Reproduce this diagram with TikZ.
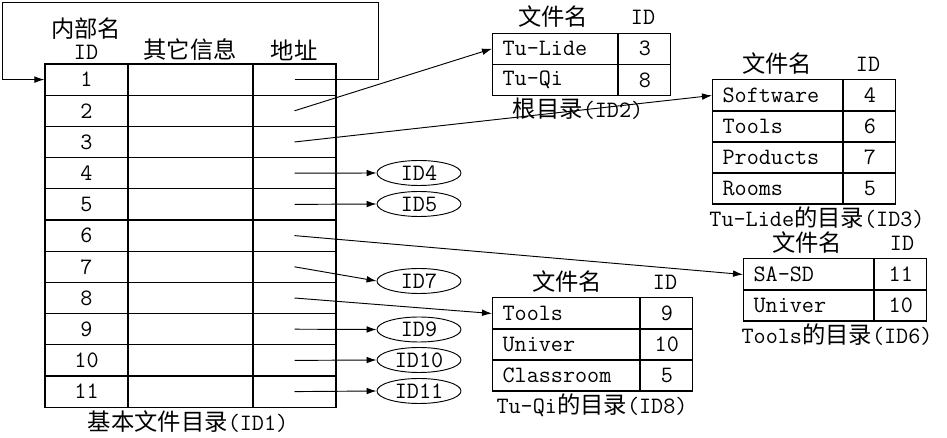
\documentclass[tikz,border=0pt]{standalone}
\usepackage{fontspec}
\newfontfamily\cjk{Noto Sans CJK SC}
\newcommand\zh[1]{{\cjk\fontsize{17.5}{20}\selectfont #1}}
\usetikzlibrary{arrows.meta,shapes.geometric}
\tikzset{
  cell/.style={draw,rectangle,inner sep=0pt,line width=0.9pt,minimum height=23.4pt},
  namecell/.style={cell,anchor=west,inner xsep=7.5pt,align=left},
  idcell/.style={cell,anchor=west,minimum width=39pt},
  oval/.style={draw,ellipse,inner sep=0pt,minimum width=63pt,minimum height=18.75pt,line width=0.7pt},
  link/.style={-{Latex[length=7.5pt,width=5pt]},line width=0.7pt},
}

\begin{document}
\begin{tikzpicture}[x=0.75pt,y=-0.75pt,font=\ttfamily\fontsize{17.6}{20}\selectfont]
\useasboundingbox (0,0) rectangle (947,438);
% basic file directory
\foreach \i in {1,...,11} {
  \node[cell,minimum width=62.25pt] (n\i) at (86.5,{64+31.2*(\i-0.5)}) {\i};
  \node[cell,minimum width=93.75pt] (o\i) at (190.5,{64+31.2*(\i-0.5)}) {};
  \node[cell,minimum width=62.25pt] (a\i) at (294.5,{64+31.2*(\i-0.5)}) {};
}
\node (hname) at (86,29) {\zh{内部名}};
\node (hid) at (86,52) {ID};
\node (hinfo) at (190,50) {\zh{其它信息}};
\node (haddr) at (294,50) {\zh{地址}};
\node (cap1) at (188,422) {\zh{基本文件目录}(ID1)};
\coordinate (loopR) at (378,2);
\coordinate (loopL) at (2,2);
\draw[link] (a1.center) -| (loopR) -- (loopL) |- (n1.west);
% root (ID2)
\node (h2name) at (553,17) {\zh{文件名}};
\node (h2id) at (643,17) {ID};
\foreach \f/\d [count=\k] in {Tu-Lide/3,Tu-Qi/8} {
  \node[namecell,text width=78.75pt] (r\k) at (492,{33+31.5*(\k-0.5)}) {\f};
  \node[idcell] (rid\k) at (r\k.east) {\d};
}
\node (cap2) at (578,109) {\zh{根目录}(ID2)};
% Tu-Lide (ID3)
\node (h3name) at (777,64) {\zh{文件名}};
\node (h3id) at (868,64) {ID};
\foreach \f/\d [count=\k] in {Software/4,Tools/6,Products/7,Rooms/5} {
  \node[namecell,text width=82.5pt] (t\k) at (712,{80+31*(\k-0.5)}) {\f};
  \node[idcell] (tid\k) at (t\k.east) {\d};
}
\node (cap3) at (817,218) {Tu-Lide\zh{的目录}(ID3)};
% Tools (ID6)
\node (h6name) at (807,243) {\zh{文件名}};
\node (h6id) at (902,243) {ID};
\foreach \f/\d [count=\k] in {SA-SD/11,Univer/10} {
  \node[namecell,text width=82.5pt] (s\k) at (743,{259+31*(\k-0.5)}) {\f};
  \node[idcell] (sid\k) at (s\k.east) {\d};
}
\node (cap6) at (837,335) {Tools\zh{的目录}(ID6)};
% Tu-Qi (ID8)
\node (h8name) at (567,282) {\zh{文件名}};
\node (h8id) at (665,282) {ID};
\foreach \f/\d [count=\k] in {Tools/9,Univer/10,Classroom/5} {
  \node[namecell,text width=95.25pt] (q\k) at (492,{298+31*(\k-0.5)}) {\f};
  \node[idcell] (qid\k) at (q\k.east) {\d};
}
\node (cap8) at (592,405) {Tu-Qi\zh{的目录}(ID8)};
% pointers
\foreach \i/\y in {4/173,5/204,7/281,9/329.5,10/360,11/391} {
  \node[oval] (e\i) at (419,\y) {ID\i};
  \draw[link] (a\i.center) -- (e\i.west);
}
\draw[link] (a2.center) -- (r1.west);
\draw[link] (a3.center) -- (t1.west);
\draw[link] (a6.center) -- (s1.west);
\draw[link] (a8.center) -- (q1.west);
\end{tikzpicture}
\end{document}
